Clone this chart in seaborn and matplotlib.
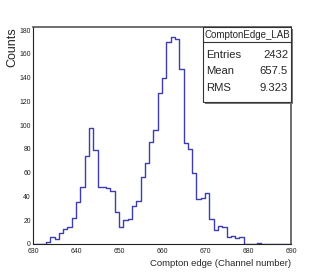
import numpy as np
import pandas as pd
import matplotlib
matplotlib.use("Agg")
import matplotlib.pyplot as plt
import seaborn as sns
from matplotlib import font_manager
from matplotlib.patches import Rectangle
from matplotlib.ticker import MultipleLocator

# histogram contents, 1 channel per bin from 630 to 690
channels = list(range(630, 690))
counts = [0, 0, 0, 2, 6, 4, 9, 13, 14, 22,
          35, 48, 74, 98, 79, 48, 48, 47, 45, 27,
          14, 20, 21, 32, 36, 56, 68, 86, 96, 127,
          140, 170, 174, 173, 147, 85, 80, 60, 38, 39,
          43, 21, 12, 15, 14, 6, 7, 5, 6, 0,
          0, 0, 1, 0, 0, 0, 0, 0, 0, 0]

hist_name = "ComptonEdge_LAB"
stat_names = ["Entries", "Mean", "RMS"]
stat_values = ["2432", "657.5", "9.323"]

sns.set_style("white")

# narrow helvetica look if we have it
try:
    font_manager.findfont("Liberation Sans Narrow", fallback_to_default=False)
    narrow = True
except Exception:
    narrow = False
plt.rcParams["font.family"] = ["Liberation Sans", "DejaVu Sans"]
nfam = ["Liberation Sans Narrow", "Liberation Sans"] if narrow else ["Liberation Sans"]
k = 1.0 if narrow else 0.85  # shrink normal width font to match widths

df = pd.DataFrame({"channel": np.array(channels) + 0.5, "counts": counts})

W, H = 327, 273
fig = plt.figure(figsize=(W / 100, H / 100), dpi=100)
ax = fig.add_axes([33 / W, 1 - 244 / H, 258 / W, 217 / H])

sns.histplot(data=df, x="channel", weights="counts", bins=60, binrange=(630, 690),
             element="step", fill=False, color="#3d3dae", linewidth=1.0, ax=ax)

ax.set_xlim(630, 690)
ax.set_ylim(0, max(counts) * 1.05)
ax.set_xlabel("")
ax.set_ylabel("")

ax.xaxis.set_major_locator(MultipleLocator(10))
ax.xaxis.set_minor_locator(MultipleLocator(2))
ax.yaxis.set_major_locator(MultipleLocator(20))
ax.yaxis.set_minor_locator(MultipleLocator(4))
ax.tick_params(which="both", direction="in", colors="#222222", labelsize=5.5 * k + 0.3)
ax.tick_params(axis="x", pad=3)
ax.tick_params(axis="y", pad=1.5)
ax.tick_params(which="major", length=5)
ax.tick_params(which="minor", length=2.5)
for lab in ax.get_xticklabels() + ax.get_yticklabels():
    lab.set_family(nfam)

for s in ["left", "bottom"]:
    ax.spines[s].set_color("#222222")
    ax.spines[s].set_linewidth(0.8)
for s in ["top", "right"]:
    ax.spines[s].set_color("#555555")
    ax.spines[s].set_linewidth(1.2)

fig.text(12 / W, 1 - 27 / H, "Counts", rotation=90, ha="center", va="top", fontsize=9)
fig.text(291 / W, 1 - 263 / H, "Compton edge (Channel number)", ha="right", va="center",
         fontsize=8 * k, family=nfam)

# stats box
bx0, by0, bx1, by1 = 203, 27, 291, 102
fig.patches.append(Rectangle((bx0 / W + 1.5 / W, 1 - (by1 + 1.5) / H), (bx1 - bx0) / W, (by1 - by0) / H,
                             transform=fig.transFigure, facecolor="#777777", edgecolor="none", zorder=5))
fig.patches.append(Rectangle((bx0 / W, 1 - by1 / H), (bx1 - bx0) / W, (by1 - by0) / H,
                             transform=fig.transFigure, facecolor="white", edgecolor="#333333",
                             linewidth=0.8, zorder=6))
fig.lines.append(plt.Line2D([bx0 / W, bx1 / W], [1 - 42 / H, 1 - 42 / H], transform=fig.transFigure,
                            color="#333333", linewidth=0.8, zorder=7))
fig.text((bx0 + bx1) / 2 / W, 1 - 34.5 / H, hist_name, ha="center", va="center",
         fontsize=7.5 if narrow else 7, family=nfam, zorder=8)
for i, (n, v) in enumerate(zip(stat_names, stat_values)):
    yy = 1 - (55 + i * 16.5) / H
    fig.text(206 / W, yy, n, ha="left", va="center", fontsize=9.5 * k, family=nfam, zorder=8)
    fig.text(288 / W, yy, v, ha="right", va="center", fontsize=9.5 * k, family=nfam, zorder=8)

fig.savefig("out.png", dpi=100)
